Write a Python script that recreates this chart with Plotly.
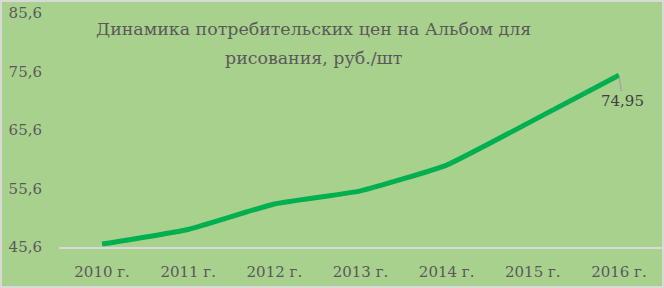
import plotly.graph_objects as go

years = ["2010 г.", "2011 г.", "2012 г.", "2013 г.", "2014 г.", "2015 г.", "2016 г."]
prices = [46.1, 48.6, 52.95, 55.2, 59.6, 67.2, 74.95]
y_ticks = [45.6, 55.6, 65.6, 75.6, 85.6]
y_tick_text = ["45,6", "55,6", "65,6", "75,6", "85,6"]
title_lines = ["Динамика потребительских цен на Альбом для", "рисования, руб./шт"]

FONT = "DejaVu Serif"
GREY = "#595959"
W, H = 603, 234

fig = go.Figure()
fig.add_trace(go.Scatter(
    x=years, y=prices, mode="lines",
    line=dict(color="#00B050", width=5, shape="spline", smoothing=0.4),
    hoverinfo="skip", showlegend=False,
))

last_label = f"{prices[-1]:.2f}".replace(".", ",")
fig.add_annotation(
    x=years[-1], y=prices[-1], text=last_label,
    showarrow=True, arrowhead=0, arrowwidth=1.5, arrowcolor="#A6A6A6",
    ax=4, ay=26, standoff=2, font=dict(family=FONT, size=15, color="#404040"),
)

for i, line in enumerate(title_lines):
    y_px = 29 + 29 * i
    fig.add_annotation(
        xref="paper", yref="paper", x=(313 - 59) / W, y=1 + (13 - y_px) / H,
        text=line, showarrow=False, yanchor="middle", xanchor="center",
        font=dict(family=FONT, size=17.4, color=GREY),
    )

fig.add_shape(
    type="rect", xref="paper", yref="paper",
    x0=-58 / W, x1=1 + 1 / W, y0=-40 / H, y1=1 + 12 / H,
    line=dict(color="#D9D9D9", width=2), fillcolor="rgba(0,0,0,0)", layer="above",
)

fig.update_layout(
    width=664, height=288,
    margin=dict(l=59, r=2, t=13, b=41),
    paper_bgcolor="#A9D18E", plot_bgcolor="#A9D18E",
    font=dict(family=FONT, size=15, color=GREY),
    xaxis=dict(
        type="category", range=[-0.5, 6.5], showgrid=False, zeroline=False,
        showline=True, linecolor="#D9D9D9", linewidth=2,
        ticks="", tickfont=dict(family=FONT, size=15, color=GREY),
        ticklabelstandoff=10, fixedrange=True,
    ),
    yaxis=dict(
        range=[45.6, 85.6], tickvals=y_ticks, ticktext=y_tick_text,
        showgrid=False, zeroline=False, showline=False, ticks="",
        tickfont=dict(family=FONT, size=15, color=GREY),
        ticklabelstandoff=16, fixedrange=True,
    ),
)

fig.write_html("out.html", config={"displayModeBar": False})
